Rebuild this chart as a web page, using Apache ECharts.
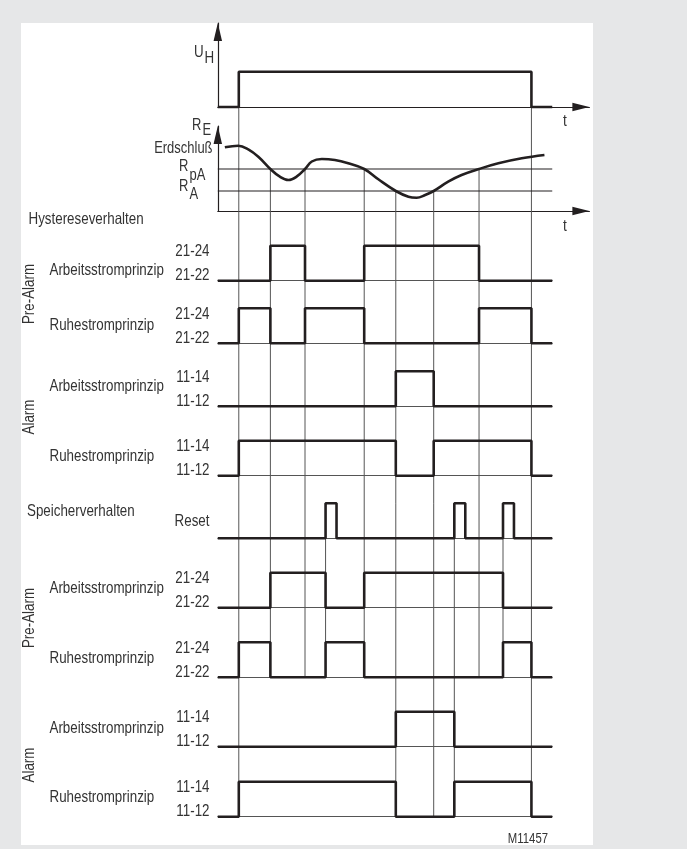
<!DOCTYPE html>
<html><head><meta charset="utf-8">
<script src="https://cdn.jsdelivr.net/npm/echarts@6/dist/echarts.min.js"></script>
<style>
html,body{margin:0;padding:0;background:#e6e7e8;overflow:hidden;}
#panel{position:absolute;left:21px;top:23px;width:572px;height:822px;background:#ffffff;}
#chart{position:absolute;left:0;top:0;width:687px;height:849px;}
</style></head><body>
<div id="panel"></div><div id="chart"></div>
<script>
// ===================== DATA =====================
// time axis (arbitrary units); signals end at 90, axis arrow at 100
const timeAxisMax = 100;
const signalEnd = 90;

// supply voltage U_H  [time, state]
const uhSignal = [[0,0],[5.65,1],[84.4,0],[90,0]];

// earth resistance R_E curve  [time, resistance units]
const reCurve = [
  [1.9,63.7],[5.5,65.3],[8.2,61.7],[10.9,54.3],[14.15,42],[16.7,34.3],[19.0,31],
  [21.2,34.3],[23.47,42],[25.3,49.5],[28.0,52],[31.5,51],[35.1,47.7],[39.4,42],
  [43.2,31.7],[47.9,20],[51.3,14.3],[53.5,13.3],[55.8,16],[58.1,20],[62.0,29.3],
  [65.6,36],[70.3,42],[75.5,47.7],[81.8,52.7],[87.9,56]
];
const rAxisMax = 85;
const rpALevel = 42;   // pre-alarm threshold R_pA
const rALevel = 20;    // alarm threshold R_A

// Hystereseverhalten
const hystPreArbeit = [[0,0],[14.15,1],[23.47,0],[39.4,1],[70.3,0],[90,0]];
const hystPreRuhe   = [[0,0],[5.65,1],[14.15,0],[23.47,1],[39.4,0],[70.3,1],[84.4,0],[90,0]];
const hystAlArbeit  = [[0,0],[47.9,1],[58.1,0],[90,0]];
const hystAlRuhe    = [[0,0],[5.65,1],[47.9,0],[58.1,1],[84.4,0],[90,0]];
// Speicherverhalten
const resetSignal   = [[0,0],[29.0,1],[31.95,0],[63.65,1],[66.6,0],[76.75,1],[79.7,0],[90,0]];
const memPreArbeit  = [[0,0],[14.15,1],[29.0,0],[39.4,1],[76.75,0],[90,0]];
const memPreRuhe    = [[0,0],[5.65,1],[14.15,0],[29.0,1],[39.4,0],[76.75,1],[84.4,0],[90,0]];
const memAlArbeit   = [[0,0],[47.9,1],[63.65,0],[90,0]];
const memAlRuhe     = [[0,0],[5.65,1],[47.9,0],[63.65,1],[84.4,0],[90,0]];

const rowSignals = [hystPreArbeit, hystPreRuhe, hystAlArbeit, hystAlRuhe, resetSignal,
                    memPreArbeit, memPreRuhe, memAlArbeit, memAlRuhe];
const rowNames = ['Arbeitsstromprinzip','Ruhestromprinzip','Arbeitsstromprinzip','Ruhestromprinzip','Reset',
                  'Arbeitsstromprinzip','Ruhestromprinzip','Arbeitsstromprinzip','Ruhestromprinzip'];
const rowHighLabels = ['21-24','21-24','11-14','11-14','','21-24','21-24','11-14','11-14'];
const rowLowLabels  = ['21-22','21-22','11-12','11-12','','21-22','21-22','11-12','11-12'];
const groupLabels = ['Pre-Alarm','Alarm','Pre-Alarm','Alarm'];
const sectionLabels = ['Hystereseverhalten','Speicherverhalten'];
const thresholdNames = ['Erdschluß'];
const figureId = 'M11457';

// vertical event lines: [time, from-anchor, to-anchor]
const eventLines = [
  [5.65,'uh','row8'],[84.4,'uh','row8'],
  [14.15,'rpA','row6'],[23.47,'rpA','row6'],[39.4,'rpA','row6'],[70.3,'rpA','row6'],
  [47.9,'rA','row8'],[58.1,'rA','row8'],
  [29.0,'reset','row6'],[63.65,'reset','row8'],[76.75,'reset','row6']
];

// ===================== LAYOUT =====================
const X0 = 217.8, PXT = 3.716;
const UH_TIP = 23, UH_HIGH = 71.7, UH_LOW = 107;
const R_TOP = 126, R_AXIS = 211;
const rowTop = [245.7,308.3,371.3,440.7,503.3,572.7,642.3,711.7,781.7];
const ROW_H = 35;
const nameOffset = [24.3,16.7,15.4,16,18.4,15.3,16,16.6,16];
const groupCenters = [[29.5,294],[29.5,417],[29.5,618],[29.5,765]];
const sectionPos = [[28.5,219],[27,511.7]];
const INK = '#231f20', THIN = '#555555', TXT = '#333333';
const FONT = "'Liberation Sans',Arial,sans-serif";
const FS = 16.5;
const SX = 0.81;   // condensed text

// ===================== BUILD =====================
const grids = [], xAxes = [], yAxes = [], series = [];
const arrowX = {show:true, symbol:['none','triangle'], symbolSize:[8.5,17], symbolOffset:[0,-8.5],
                lineStyle:{color:INK, width:1.2}};
const arrowY = {show:true, symbol:['none','triangle'], symbolSize:[8.5,18], symbolOffset:[0,-9],
                lineStyle:{color:INK, width:1.2}};
function hiddenParts(o){ return Object.assign({axisTick:{show:false}, axisLabel:{show:false}, splitLine:{show:false}}, o); }

// grid 0: U_H
grids.push({left:X0, top:UH_TIP, width:timeAxisMax*PXT, height:UH_LOW-UH_TIP, outerBoundsMode:'none'});
xAxes.push(hiddenParts({type:'value', gridIndex:0, min:0, max:timeAxisMax, axisLine:arrowX}));
yAxes.push(hiddenParts({type:'value', gridIndex:0, min:0, max:(UH_LOW-UH_TIP)/(UH_LOW-UH_HIGH), axisLine:arrowY}));
series.push({type:'line', xAxisIndex:0, yAxisIndex:0, data:uhSignal, step:'end', showSymbol:false, clip:false,
  lineStyle:{color:INK, width:2.6}, z:3});

// grid 1: R_E
grids.push({left:X0, top:R_TOP, width:timeAxisMax*PXT, height:R_AXIS-R_TOP, outerBoundsMode:'none'});
xAxes.push(hiddenParts({type:'value', gridIndex:1, min:0, max:timeAxisMax, axisLine:arrowX}));
yAxes.push(hiddenParts({type:'value', gridIndex:1, min:0, max:rAxisMax, axisLine:arrowY}));
series.push({type:'line', xAxisIndex:1, yAxisIndex:1, data:[[0,rpALevel],[signalEnd,rpALevel]], showSymbol:false, clip:false,
  lineStyle:{color:INK, width:1.1}, z:2});
series.push({type:'line', xAxisIndex:1, yAxisIndex:1, data:[[0,rALevel],[signalEnd,rALevel]], showSymbol:false, clip:false,
  lineStyle:{color:INK, width:1.1}, z:2});
series.push({type:'line', xAxisIndex:1, yAxisIndex:1, data:reCurve, smooth:0.4, showSymbol:false, clip:false,
  lineStyle:{color:INK, width:2.6}, z:3});

// signal rows
rowSignals.forEach((sig, i) => {
  const gi = i + 2;
  grids.push({left:X0, top:rowTop[i], width:signalEnd*PXT, height:ROW_H, outerBoundsMode:'none'});
  xAxes.push(hiddenParts({type:'value', gridIndex:gi, min:0, max:signalEnd,
    axisLine:{show:true, lineStyle:{color:THIN, width:1}}}));
  yAxes.push(hiddenParts({type:'value', gridIndex:gi, min:0, max:1, axisLine:{show:false}}));
  series.push({type:'line', xAxisIndex:gi, yAxisIndex:gi, data:sig, step:'end', showSymbol:false, clip:false,
    lineStyle:{color:INK, width:2.6}, z:3});
});

const chart = echarts.init(document.getElementById('chart'), null, {renderer:'canvas', width:687, height:849});
chart.setOption({animation:false, backgroundColor:'transparent', grid:grids, xAxis:xAxes, yAxis:yAxes, series:series});

// ===================== GRAPHICS (labels, event lines) =====================
const anchors = {
  uh:   [0, 1],
  rpA:  [1, rpALevel],
  rA:   [1, rALevel],
  reset:[2+4, 1],
  row6: [2+6, 0],
  row8: [2+8, 0]
};
function px(gi, t, v){ return chart.convertToPixel({gridIndex:gi}, [t, v]); }
const els = [];
eventLines.forEach(([t, a, b]) => {
  const p1 = px(anchors[a][0], t, anchors[a][1]);
  const p2 = px(anchors[b][0], t, anchors[b][1]);
  els.push({type:'line', silent:true, z:1, shape:{x1:p1[0], y1:p1[1], x2:p2[0], y2:p2[1]},
    style:{stroke:THIN, lineWidth:1}});
});
function txt(text, x, y, align, size, extra){
  return Object.assign({type:'text', silent:true, z:5, x:x, y:y, scaleX:SX,
    style:{text:text, fill:TXT, fontSize:size||FS, fontFamily:FONT, align:align||'left', verticalAlign:'middle'}}, extra||{});
}
// top axis labels
els.push(txt('U', 194, 52, 'left', 16.5));
els.push(txt('H', 204.5, 58, 'left', 16.5));
els.push(txt('t', 565, 121.5, 'center', 17));
els.push(txt('R', 192, 126, 'left', 16));
els.push(txt('E', 202.5, 131, 'left', 16));
els.push(txt(thresholdNames[0], 212.5, 149, 'right', 16));
els.push(txt('R', 179, 167, 'left', 16));
els.push(txt('pA', 189.5, 176, 'left', 16));
els.push(txt('R', 179, 186.5, 'left', 16));
els.push(txt('A', 189.5, 195, 'left', 16));
els.push(txt('t', 565, 226.5, 'center', 17));
// sections
sectionLabels.forEach((s, i) => els.push(txt(s, sectionPos[i][0], sectionPos[i][1], 'left')));
// rows
rowNames.forEach((n, i) => {
  const top = rowTop[i];
  if (n === 'Reset') els.push(txt(n, 209.5, top + nameOffset[i], 'right'));
  else els.push(txt(n, 49.5, top + nameOffset[i], 'left'));
  if (rowHighLabels[i]) els.push(txt(rowHighLabels[i], 209.5, top + 5.7, 'right'));
  if (rowLowLabels[i]) els.push(txt(rowLowLabels[i], 209.5, top + ROW_H - 5, 'right'));
});
groupLabels.forEach((g, i) => els.push(txt(g, groupCenters[i][0], groupCenters[i][1], 'center', FS, {rotation:Math.PI/2})));
els.push(txt(figureId, 548, 839.3, 'right', 14));
chart.setOption({graphic:{elements:els}});
</script>
</body></html>
